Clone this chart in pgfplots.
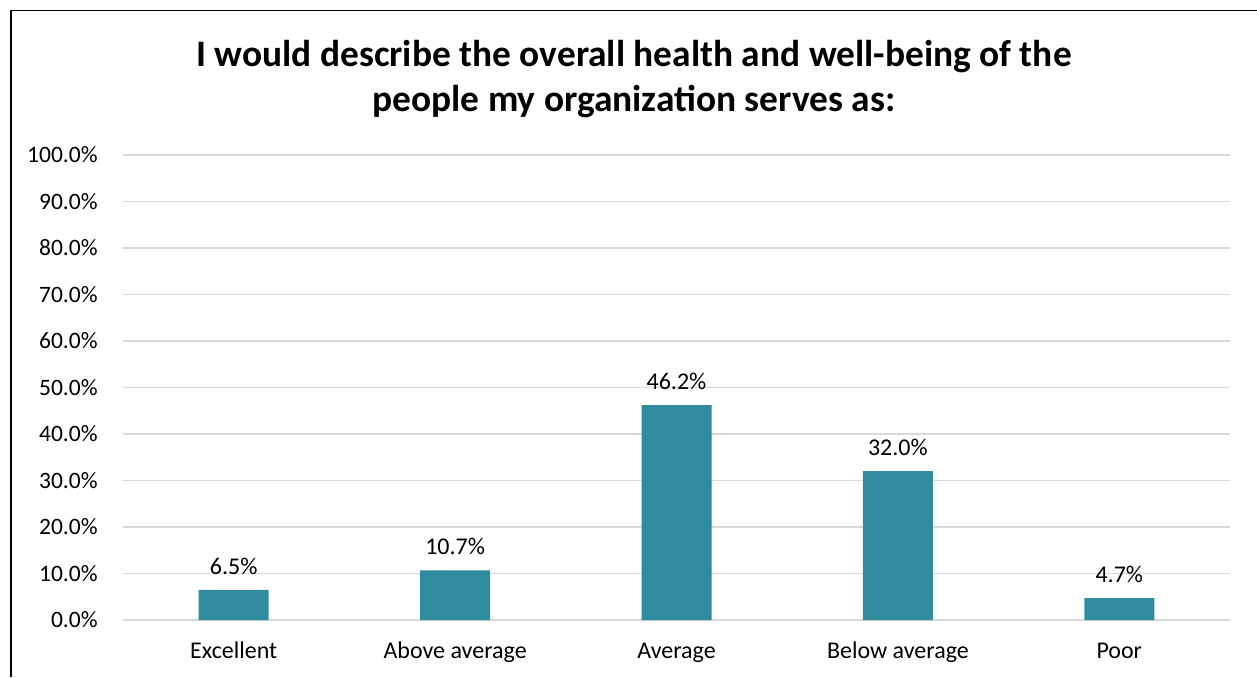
\documentclass[border=0pt]{standalone}
\usepackage{pgfplots}
\pgfplotsset{compat=1.18}
\usepackage{fontspec}
\setmainfont{Carlito}
\definecolor{barteal}{HTML}{2E8C9E}
\definecolor{gridgray}{HTML}{D9D9D9}
\begin{document}
\begin{tikzpicture}
\useasboundingbox (0,0) rectangle (628.5pt,-338.5pt);
\draw[line width=0.75pt, black] (5.5pt,-338.5pt) -- (5.5pt,-5.15pt) -- (628.5pt,-5.15pt);
\node[anchor=base, font=\fontsize{18.7}{22}\selectfont\bfseries, inner sep=0pt] at (317pt,-33pt) {I would describe the overall health and well-being of the};
\node[anchor=base, font=\fontsize{18.7}{22}\selectfont\bfseries, inner sep=0pt] at (317pt,-55.5pt) {people my organization serves as:};
\begin{axis}[
  at={(61.5pt,-310pt)}, anchor=south west,
  scale only axis, width=553.5pt, height=232.5pt,
  xmin=-0.5, xmax=4.5, ymin=0, ymax=100,
  axis line style={draw=none},
  major tick length=0pt,
  ytick={0,10,...,100},
  ymajorgrids, grid style={gridgray, line width=0.7pt},
  xtick={0,1,2,3,4},
  xticklabels={Excellent, Above average, Average, Below average, Poor},
  /pgf/number format/assume math mode=true,
  yticklabel={\pgfmathprintnumber[fixed,fixed zerofill,precision=1]{\tick}\%},
  yticklabel style={anchor=east, inner sep=0pt, xshift=-12.5pt, font=\fontsize{11.75}{13}\selectfont},
  xticklabel style={anchor=base, inner sep=0pt, yshift=-19pt, font=\fontsize{12}{13}\selectfont},
  ybar, bar width=35pt, bar shift=0pt,
  nodes near coords={\pgfmathprintnumber[fixed,fixed zerofill,precision=1,assume math mode=true]{\pgfplotspointmeta}\%},
  every node near coord/.append style={anchor=south, inner sep=0pt, yshift=7.5pt, font=\fontsize{12}{13}\selectfont, black},
  clip=false,
]
\addplot[fill=barteal, draw=none] coordinates {(0,6.5) (1,10.7) (2,46.2) (3,32.0) (4,4.7)};
\end{axis}
\end{tikzpicture}
\end{document}
